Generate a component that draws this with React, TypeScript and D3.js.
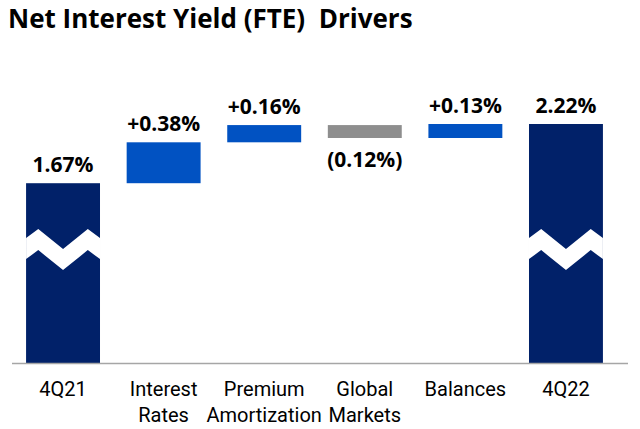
import * as d3 from 'd3';

const categories = ['4Q21', 'Interest Rates', 'Premium Amortization', 'Global Markets', 'Balances', '4Q22'];
const labelLines = [['4Q21'], ['Interest', 'Rates'], ['Premium', 'Amortization'], ['Global', 'Markets'], ['Balances'], ['4Q22']];
const values = [1.67, 0.38, 0.16, -0.12, 0.13, 2.22];
const kinds = ['total', 'delta', 'delta', 'delta', 'delta', 'total'];
const valueLabels = ['1.67%', '+0.38%', '+0.16%', '(0.12%)', '+0.13%', '2.22%'];

const NAVY = '#012169';
const BLUE = '#0152C2';
const GRAY = '#8E8E8E';

const W = 640;
const H = 429;

const App = () => {
  const x = d3
    .scaleBand<string>()
    .domain(categories)
    .range([13, 616])
    .paddingInner(0.265)
    .paddingOuter(0.13);

  const y = d3.scaleLinear().domain([0, 2.22]).range([363, 124]);

  // waterfall steps
  let running = 0;
  const bars = categories.map((c, i) => {
    const v = values[i];
    let lo: number, hi: number;
    if (kinds[i] === 'total') {
      lo = 0;
      hi = v;
      running = v;
    } else {
      const next = running + v;
      lo = Math.min(running, next);
      hi = Math.max(running, next);
      running = next;
    }
    return { c, v, lo, hi, kind: kinds[i], label: valueLabels[i] };
  });

  const bw = x.bandwidth();
  // zigzag break on the total bars
  const breakPath = (x0: number) => {
    const yc = y(1.16);
    const top = [
      [0, yc],
      [bw * 0.165, yc - 9],
      [bw * 0.5, yc + 11],
      [bw * 0.835, yc - 9],
      [bw, yc],
    ];
    const t = 21;
    const pts = top.map(([dx, yy]) => [x0 + dx, yy]);
    const bottom = top
      .slice()
      .reverse()
      .map(([dx, yy]) => [x0 + dx, yy + t]);
    return 'M' + pts.concat(bottom).map(p => p.join(',')).join('L') + 'Z';
  };

  return (
    <svg width={W} height={H} style={{ display: 'block', position: 'absolute', left: 0, top: 0 }}>
      <rect width={W} height={H} fill="#fff" />
      <text
        x={8}
        y={28}
        fontFamily="'Open Sans', sans-serif"
        fontWeight={700}
        fontSize={26}
        fill="#000"
        style={{ whiteSpace: 'pre' }}
      >
        {'Net Interest Yield (FTE)  Drivers'}
      </text>

      {bars.map((b, i) => {
        const x0 = x(b.c) as number;
        const fill = b.kind === 'total' ? NAVY : b.v < 0 ? GRAY : BLUE;
        const yTop = y(b.hi);
        const yBot = y(b.lo);
        const labelY = b.v < 0 ? yBot + 29 : yTop - 11;
        return (
          <g key={b.c}>
            <rect x={x0} y={yTop} width={bw} height={yBot - yTop} fill={fill} />
            {b.kind === 'total' && <path d={breakPath(x0)} fill="#fff" />}
            <text
              x={x0 + bw / 2}
              y={labelY}
              textAnchor="middle"
              fontFamily="'Open Sans', sans-serif"
              fontWeight={700}
              fontSize={21}
              fill="#000"
            >
              {b.label}
            </text>
          </g>
        );
      })}

      <line x1={12} x2={628} y1={y(0) + 0.5} y2={y(0) + 0.5} stroke="#A6A6A6" strokeWidth={1.5} />

      {categories.map((c, i) => (
        <text
          key={c}
          x={(x(c) as number) + bw / 2}
          y={396}
          textAnchor="middle"
          fontFamily="Roboto, sans-serif"
          fontSize={20}
          fill="#000"
        >
          {labelLines[i].map((l, j) => (
            <tspan key={j} x={(x(c) as number) + bw / 2} dy={j === 0 ? 0 : 26}>
              {l}
            </tspan>
          ))}
        </text>
      ))}
    </svg>
  );
};

export default App;
